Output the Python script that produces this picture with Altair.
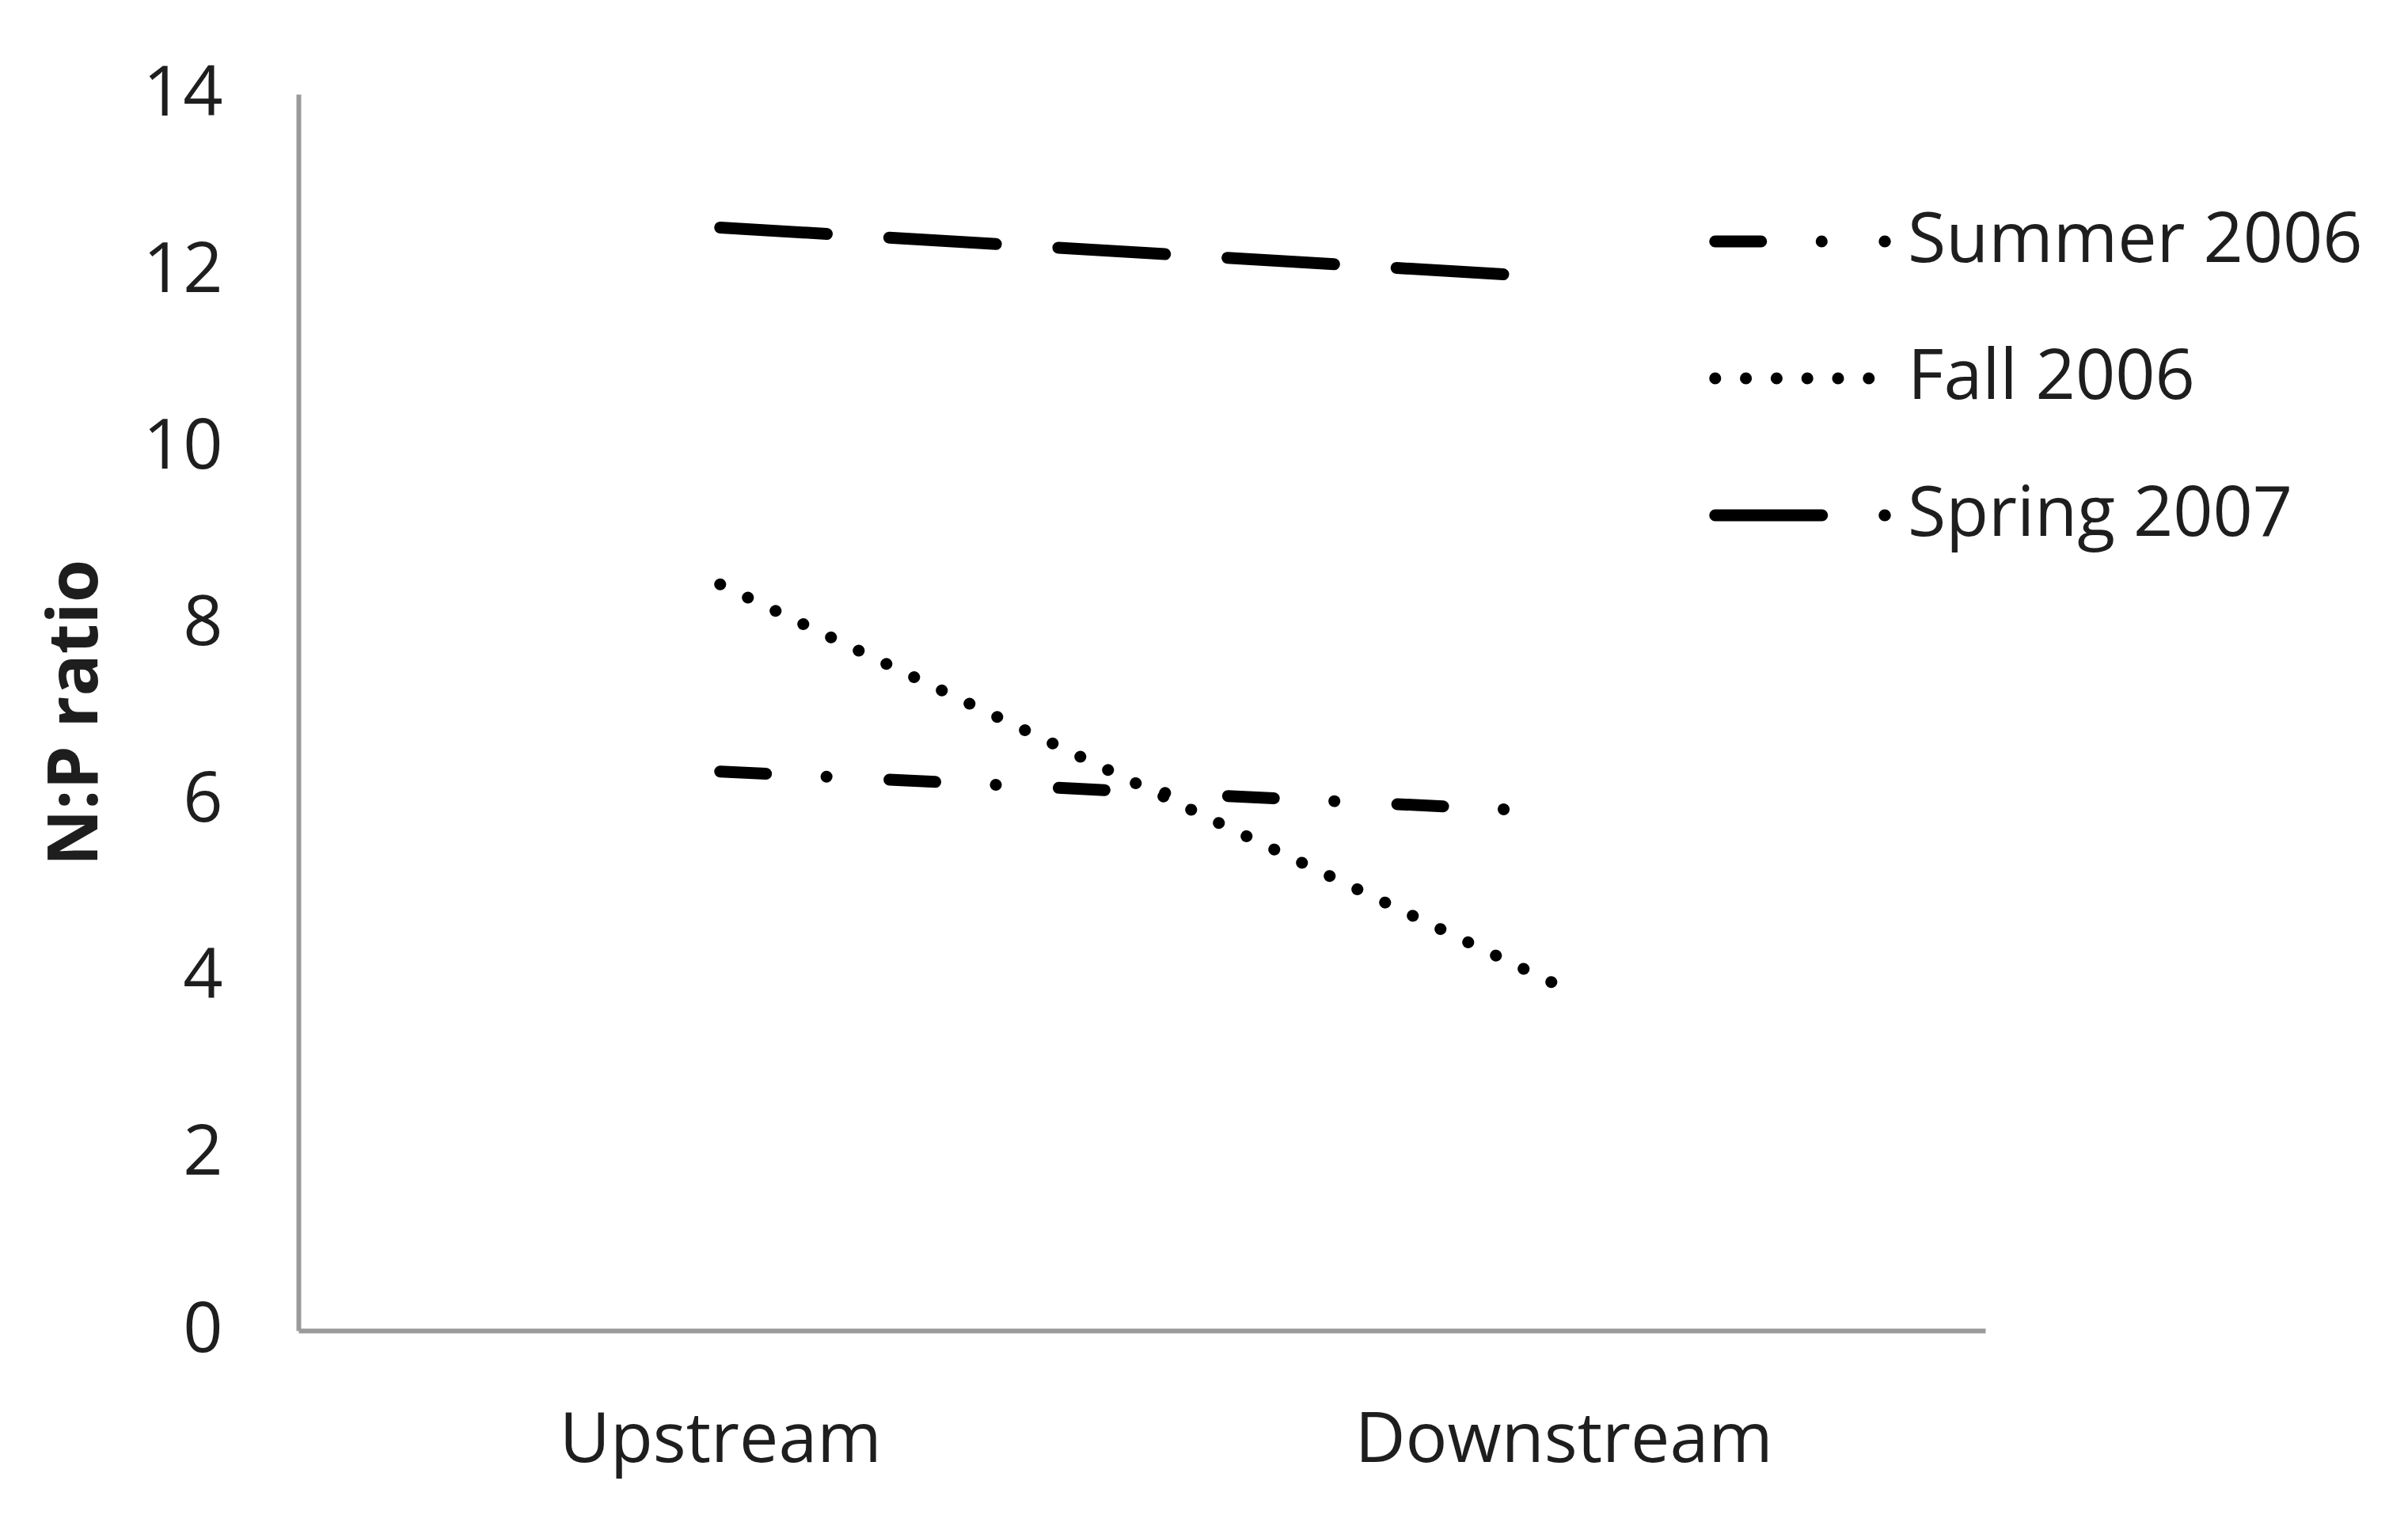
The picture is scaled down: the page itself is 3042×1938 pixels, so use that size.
import altair as alt
import pandas as pd

sites = ["Upstream", "Downstream"]
series_names = ["Summer 2006", "Fall 2006", "Spring 2007"]
summer_2006 = [6.33, 5.87]
fall_2006 = [8.45, 3.88]
spring_2007 = [12.49, 11.92]

rows = []
for name, vals in zip(series_names, [summer_2006, fall_2006, spring_2007]):
    for s, v in zip(sites, vals):
        rows.append({"site": s, "series": name, "ratio": v})
df = pd.DataFrame(rows)

dash_range = [
    [58, 76.5, 0.1, 79.5],   # Summer 2006: dash-dot
    [0.1, 38.7],             # Fall 2006: dotted
    [135, 79],               # Spring 2007: long dash
]

FONT = "Open Sans"
TXT = "#1e1e1e"
AXC = "#9a9a9a"

chart = alt.Chart(df).mark_line(
    color="black", strokeWidth=15, strokeCap="round"
).encode(
    x=alt.X("site:N", sort=sites, scale=alt.Scale(padding=0.5),
            axis=alt.Axis(title=None, labelAngle=0, ticks=False, tickSize=0, grid=False,
                          labelFontSize=88, labelFont=FONT, labelColor=TXT,
                          labelLimit=2000,
                          labelPadding=95, domainColor=AXC, domainWidth=6)),
    y=alt.Y("ratio:Q", scale=alt.Scale(domain=[0, 14], nice=False, zero=True),
            axis=alt.Axis(title="N:P ratio", values=[0, 2, 4, 6, 8, 10, 12, 14],
                          ticks=False, tickSize=0, grid=False,
                          labelFontSize=88, labelFont=FONT, labelColor=TXT,
                          labelPadding=96, domainColor=AXC, domainWidth=6,
                          titleFont=FONT, titleFontSize=88, titleFontWeight="bold",
                          titleColor=TXT, titlePadding=40)),
    strokeDash=alt.StrokeDash("series:N", sort=series_names,
                              scale=alt.Scale(domain=series_names, range=dash_range),
                              legend=alt.Legend(title=None, orient="none",
                                                legendX=1782, legendY=71,
                                                symbolType="stroke", symbolSize=46010,
                                                symbolStrokeWidth=15, symbolStrokeColor="black",
                                                labelFontSize=88, labelFont=FONT, labelColor=TXT,
                                                labelOffset=21, labelLimit=1000,
                                                rowPadding=14, padding=0)),
).properties(
    width=2131, height=1562,
    background="white",
    autosize=alt.AutoSizeParams(type="none"),
    padding={"left": 369, "top": 111, "right": 520, "bottom": 230},
).configure_view(stroke=None)

patch = [
    {"op": "add", "path": "/legends/0/encode",
     "value": {"symbols": {"update": {
         "strokeCap": {"value": "round"},
         "stroke": {"value": "black"},
         "fill": {"value": "transparent"},
         "strokeWidth": {"value": 15}}}}}
]

chart.save("out.html", embed_options={"renderer": "svg", "actions": False, "patch": patch})
